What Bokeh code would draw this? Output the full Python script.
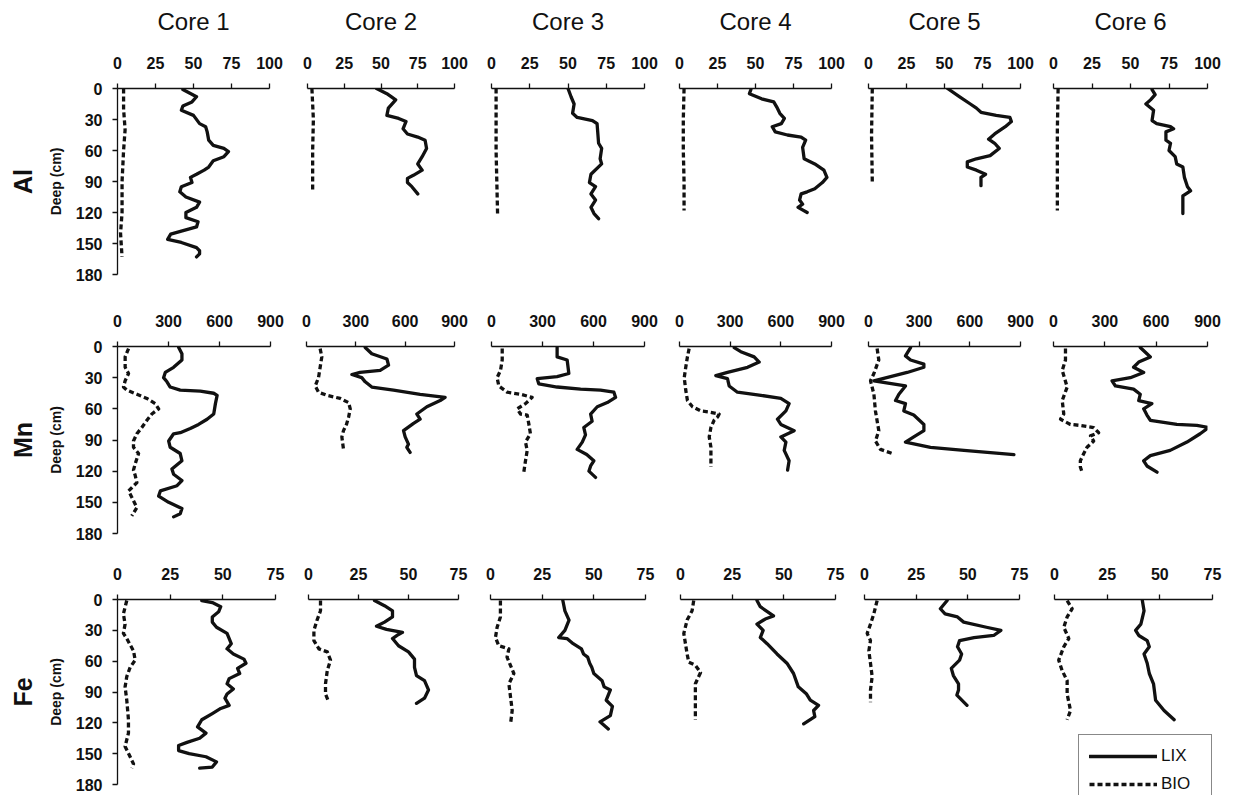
from bokeh.plotting import figure
from bokeh.layouts import row, column
from bokeh.models import Range1d, FixedTicker, Title, Legend, LegendItem
from bokeh.embed import file_html
from bokeh.resources import INLINE

FONT = "Liberation Sans"

# ---------------- data ----------------
CORES = ["Core 1", "Core 2", "Core 3", "Core 4", "Core 5", "Core 6"]
ELEMENTS = ["Al", "Mn", "Fe"]
X_MAX = {"Al": 100, "Mn": 900, "Fe": 75}
X_TICKS = {"Al": [0, 25, 50, 75, 100], "Mn": [0, 300, 600, 900], "Fe": [0, 25, 50, 75]}
DEPTH_TICKS = [0, 30, 60, 90, 120, 150, 180]
DEPTH_MAX = 180
Y_LABEL = "Deep (cm)"
SERIES = ["LIX", "BIO"]

# Al
al_c1_lix_depth = [1, 8, 13, 17, 21, 26, 34, 37, 42, 50, 55, 58, 61, 66, 70, 76, 79, 83, 86, 91, 95, 100, 105, 110, 115, 120, 125, 129, 134, 138, 141, 146, 149, 154, 157, 160, 163]
al_c1_lix = [43, 52, 49, 43, 42, 50, 54, 58, 59, 60, 63, 70, 73, 70, 63, 60, 57, 52, 48, 49, 42, 41, 45, 54, 52, 45, 45, 53, 52, 42, 35, 33, 42, 52, 54, 54, 52]
al_c1_bio_depth = [0, 20, 40, 60, 90, 120, 140, 163]
al_c1_bio = [4, 4, 5, 4, 3, 3, 2, 3]

al_c2_lix_depth = [0, 5, 11, 19, 26, 29, 32, 39, 44, 47, 50, 58, 66, 73, 79, 84, 87, 91, 95, 102]
al_c2_lix = [47, 54, 60, 55, 54, 62, 67, 65, 68, 75, 80, 81, 78, 75, 78, 72, 68, 68, 71, 75]
al_c2_bio_depth = [0, 30, 60, 100]
al_c2_bio = [3, 4, 3.5, 3.5]

al_c3_lix_depth = [0, 8, 15, 24, 28, 31, 34, 53, 58, 68, 73, 83, 91, 95, 102, 108, 115, 121, 126]
al_c3_lix = [50, 52, 54, 53, 56, 66, 69, 70, 72, 71, 72, 65, 64, 68, 65, 68, 65, 67, 70]
al_c3_bio_depth = [0, 60, 123]
al_c3_bio = [3, 3, 4]

al_c4_lix_depth = [1, 5, 10, 13, 18, 24, 29, 34, 37, 42, 45, 47, 50, 57, 68, 73, 79, 86, 91, 97, 100, 102, 108, 112, 115, 120]
al_c4_lix = [47, 46, 54, 62, 64, 66, 69, 67, 61, 63, 71, 80, 83, 81, 82, 89, 95, 97, 94, 89, 84, 80, 79, 81, 78, 84]
al_c4_bio_depth = [0, 30, 60, 90, 118]
al_c4_bio = [3, 2.5, 2.5, 3, 3]

al_c5_lix_depth = [0, 8, 15, 19, 23, 26, 28, 32, 37, 44, 49, 53, 58, 65, 68, 71, 76, 79, 83, 86, 94]
al_c5_lix = [52, 60, 67, 71, 74, 84, 93, 94, 90, 83, 79, 83, 86, 80, 71, 65, 65, 71, 77, 74, 74]
al_c5_bio_depth = [0, 45, 91]
al_c5_bio = [2.5, 2, 2.5]

al_c6_lix_depth = [1, 6, 11, 15, 21, 31, 34, 37, 39, 42, 50, 53, 60, 66, 73, 76, 86, 95, 99, 104, 121]
al_c6_lix = [64, 66, 63, 60, 65, 64, 67, 76, 78, 73, 73, 76, 75, 79, 80, 84, 85, 87, 89, 84, 84]
al_c6_bio_depth = [0, 40, 80, 118]
al_c6_bio = [3, 2.5, 2.5, 2.5]

# Mn
mn_c1_lix_depth = [1, 7, 13, 20, 25, 30, 34, 39, 42, 43, 45, 47, 55, 65, 70, 75, 79, 83, 84, 91, 97, 103, 110, 118, 123, 129, 134, 139, 144, 150, 156, 161, 164]
mn_c1_lix = [360, 379, 379, 330, 281, 271, 291, 310, 369, 487, 566, 586, 576, 566, 527, 477, 428, 369, 330, 301, 310, 369, 379, 320, 330, 379, 350, 252, 242, 301, 379, 369, 330]
mn_c1_bio_depth = [2, 10, 20, 26, 33, 39, 42, 46, 50, 55, 60, 65, 71, 78, 84, 91, 97, 103, 113, 119, 124, 131, 136, 139, 145, 155, 163]
mn_c1_bio = [65, 45, 45, 65, 45, 35, 55, 114, 173, 222, 242, 202, 173, 143, 114, 94, 94, 124, 104, 94, 104, 114, 84, 65, 84, 114, 84]

mn_c2_lix_depth = [1, 7, 12, 18, 23, 25, 27, 30, 34, 39, 42, 46, 49, 52, 58, 65, 70, 74, 81, 87, 94, 97, 102]
mn_c2_lix = [357, 397, 489, 499, 448, 326, 276, 336, 357, 397, 529, 691, 843, 813, 732, 671, 691, 651, 590, 600, 620, 610, 630]
mn_c2_bio_depth = [2, 10, 20, 30, 38, 44, 47, 50, 54, 60, 68, 75, 81, 87, 99]
mn_c2_bio = [83, 93, 83, 73, 53, 73, 124, 205, 256, 266, 256, 243, 225, 215, 225]

mn_c3_lix_depth = [1, 10, 13, 26, 29, 31, 36, 39, 41, 42, 44, 49, 54, 58, 65, 72, 78, 85, 92, 99, 104, 110, 115, 120, 126]
mn_c3_lix = [386, 386, 445, 455, 386, 269, 278, 386, 524, 641, 720, 730, 681, 622, 583, 592, 543, 553, 534, 504, 560, 602, 583, 573, 612]
mn_c3_bio_depth = [2, 13, 23, 30, 38, 44, 46, 49, 55, 60, 65, 66, 75, 84, 92, 100, 110, 121]
mn_c3_bio = [63, 63, 53, 33, 43, 92, 171, 239, 200, 151, 171, 210, 220, 229, 200, 210, 200, 190]

mn_c4_lix_depth = [1, 5, 10, 15, 20, 25, 28, 31, 38, 44, 47, 50, 55, 62, 70, 75, 81, 87, 92, 100, 110, 119]
mn_c4_lix = [324, 363, 442, 472, 403, 284, 215, 284, 294, 343, 482, 600, 649, 630, 580, 600, 679, 600, 630, 620, 649, 640]
mn_c4_bio_depth = [2, 10, 20, 30, 42, 52, 58, 62, 63, 65, 68, 71, 78, 87, 97, 116]
mn_c4_bio = [57, 47, 37, 28, 37, 47, 77, 126, 176, 235, 225, 205, 186, 176, 186, 186]

mn_c5_lix_depth = [1, 9, 13, 17, 20, 25, 33, 38, 46, 52, 55, 62, 66, 75, 81, 87, 92, 97, 100, 104]
mn_c5_lix = [249, 219, 249, 328, 328, 229, 32, 219, 180, 160, 219, 209, 268, 328, 328, 268, 219, 367, 565, 861]
mn_c5_bio_depth = [2, 13, 26, 33, 46, 62, 81, 91, 99, 103]
mn_c5_bio = [51, 61, 32, 12, 32, 41, 61, 41, 71, 140]

mn_c6_lix_depth = [1, 7, 10, 15, 20, 25, 30, 33, 38, 41, 46, 52, 55, 60, 66, 71, 75, 76, 78, 84, 92, 100, 105, 110, 115, 121]
mn_c6_lix = [507, 546, 566, 498, 468, 527, 449, 342, 362, 468, 507, 498, 575, 527, 546, 566, 721, 838, 906, 857, 780, 682, 566, 527, 546, 605]
mn_c6_bio_depth = [2, 13, 23, 39, 52, 65, 70, 75, 76, 78, 83, 86, 91, 97, 103, 110, 116, 121]
mn_c6_bio = [70, 70, 51, 80, 51, 60, 41, 99, 157, 235, 264, 216, 235, 196, 177, 157, 157, 167]

# Fe
fe_c1_lix_depth = [1, 3, 7, 12, 17, 22, 27, 33, 43, 48, 53, 58, 62, 67, 72, 77, 82, 87, 92, 96, 103, 106, 111, 117, 124, 130, 135, 139, 142, 147, 150, 153, 158, 163, 164]
fe_c1_lix = [40, 45, 49, 48, 45, 45, 47, 52, 54, 52, 55, 60, 61, 57, 58, 53, 52, 55, 52, 51, 53, 49, 45, 40, 38, 42, 39, 33, 29, 29, 34, 42, 47, 45, 39]
fe_c1_bio_depth = [1, 14, 24, 33, 38, 50, 59, 66, 75, 85, 98, 117, 130, 143, 153, 160, 164]
fe_c1_bio = [4.4, 2.8, 3.6, 2.8, 4.4, 7.6, 8.4, 6, 4.4, 3.6, 4.4, 5.2, 5.2, 3.6, 6, 7.6, 6.8]

fe_c2_lix_depth = [1, 6, 11, 17, 22, 26, 29, 32, 34, 38, 45, 51, 58, 66, 74, 79, 88, 96, 101]
fe_c2_lix = [33, 38, 42, 42, 38, 34, 39, 47, 45, 42, 45, 50, 53, 53, 54, 58, 60, 58, 54]
fe_c2_bio_depth = [1, 11, 20, 30, 40, 48, 51, 59, 69, 82, 92, 100]
fe_c2_bio = [6, 6, 4.3, 2.7, 2.7, 5.2, 9.4, 11, 9.4, 8.5, 8.5, 10.2]

fe_c3_lix_depth = [1, 11, 20, 30, 37, 38, 43, 48, 53, 56, 62, 66, 72, 79, 85, 88, 98, 104, 113, 119, 126]
fe_c3_lix = [35, 36, 38, 36, 33, 37, 40, 44, 45, 47, 48, 49, 50, 54, 55, 58, 56, 59, 58, 53, 57]
fe_c3_bio_depth = [1, 17, 27, 37, 45, 48, 56, 72, 82, 95, 108, 121]
fe_c3_bio = [4.8, 4.8, 3.2, 2.4, 4, 8.9, 8, 11.3, 8.9, 9.7, 10.5, 9.7]

fe_c4_lix_depth = [1, 7, 16, 19, 24, 30, 37, 43, 53, 62, 72, 85, 92, 98, 103, 108, 114, 121]
fe_c4_lix = [37, 38.6, 45, 41, 37, 40, 38.6, 41.9, 46.7, 51.5, 54.7, 57, 61, 62.8, 66.8, 64.4, 65, 59.6]
fe_c4_bio_depth = [1, 11, 20, 33, 43, 53, 61, 64, 71, 82, 95, 117]
fe_c4_bio = [6.4, 5.6, 3.2, 1.6, 2.4, 3.2, 4, 7.2, 9.7, 7.2, 7.2, 7.2]

fe_c5_lix_depth = [1, 9, 14, 17, 22, 27, 30, 35, 37, 40, 46, 53, 59, 67, 74, 82, 88, 93, 103]
fe_c5_lix = [40, 36.7, 39, 45, 48, 59, 66, 62.5, 53, 46, 45, 47, 46, 42, 43, 45.5, 45.5, 44.7, 49.6]
fe_c5_bio_depth = [1, 14, 24, 33, 40, 50, 62, 75, 88, 100]
fe_c5_bio = [6.1, 4.5, 2.9, 1.3, 2.9, 2.1, 2.9, 3.7, 2.9, 2.9]

fe_c6_lix_depth = [1, 11, 24, 30, 35, 40, 46, 53, 62, 72, 82, 98, 108, 117]
fe_c6_lix = [41.7, 42.5, 41, 38.5, 40, 44, 45, 42.5, 44, 45, 47, 48, 52, 56.8]
fe_c6_bio_depth = [1, 9, 17, 27, 38, 46, 59, 69, 79, 92, 108, 117]
fe_c6_bio = [6, 8.4, 6, 4.4, 6.8, 4.4, 2, 3.6, 6, 6, 7.6, 6]

DATA = {
    ("Al", 0): (al_c1_lix_depth, al_c1_lix, al_c1_bio_depth, al_c1_bio),
    ("Al", 1): (al_c2_lix_depth, al_c2_lix, al_c2_bio_depth, al_c2_bio),
    ("Al", 2): (al_c3_lix_depth, al_c3_lix, al_c3_bio_depth, al_c3_bio),
    ("Al", 3): (al_c4_lix_depth, al_c4_lix, al_c4_bio_depth, al_c4_bio),
    ("Al", 4): (al_c5_lix_depth, al_c5_lix, al_c5_bio_depth, al_c5_bio),
    ("Al", 5): (al_c6_lix_depth, al_c6_lix, al_c6_bio_depth, al_c6_bio),
    ("Mn", 0): (mn_c1_lix_depth, mn_c1_lix, mn_c1_bio_depth, mn_c1_bio),
    ("Mn", 1): (mn_c2_lix_depth, mn_c2_lix, mn_c2_bio_depth, mn_c2_bio),
    ("Mn", 2): (mn_c3_lix_depth, mn_c3_lix, mn_c3_bio_depth, mn_c3_bio),
    ("Mn", 3): (mn_c4_lix_depth, mn_c4_lix, mn_c4_bio_depth, mn_c4_bio),
    ("Mn", 4): (mn_c5_lix_depth, mn_c5_lix, mn_c5_bio_depth, mn_c5_bio),
    ("Mn", 5): (mn_c6_lix_depth, mn_c6_lix, mn_c6_bio_depth, mn_c6_bio),
    ("Fe", 0): (fe_c1_lix_depth, fe_c1_lix, fe_c1_bio_depth, fe_c1_bio),
    ("Fe", 1): (fe_c2_lix_depth, fe_c2_lix, fe_c2_bio_depth, fe_c2_bio),
    ("Fe", 2): (fe_c3_lix_depth, fe_c3_lix, fe_c3_bio_depth, fe_c3_bio),
    ("Fe", 3): (fe_c4_lix_depth, fe_c4_lix, fe_c4_bio_depth, fe_c4_bio),
    ("Fe", 4): (fe_c5_lix_depth, fe_c5_lix, fe_c5_bio_depth, fe_c5_bio),
    ("Fe", 5): (fe_c6_lix_depth, fe_c6_lix, fe_c6_bio_depth, fe_c6_bio),
}

# ---------------- layout geometry (pixels) ----------------
TOTAL_W = 1233
FRAME_L = {"Al": [117, 307, 491, 679, 868, 1053],
           "Mn": [117, 306, 491, 679, 868, 1053],
           "Fe": [117, 308, 490, 680, 864, 1054]}
FRAME_R = {"Al": [269, 454, 644, 831, 1020, 1207],
           "Mn": [270, 454, 644, 831, 1020, 1207],
           "Fe": [275, 458, 645, 835, 1019, 1212]}
# (top border, frame height, bottom border)
ROW_V = {"Al": (88, 186, 10), "Mn": (62, 187, 10), "Fe": (56, 185, 11)}

INK = "#111111"
LINE_W = 3.3


def make_panel(ri, ci):
    el = ELEMENTS[ri]
    L = FRAME_L[el]
    R = FRAME_R[el]
    starts = [0] + [round((R[i - 1] + L[i]) / 2) for i in range(1, 6)] + [TOTAL_W]
    bl = L[ci] - starts[ci]
    br = starts[ci + 1] - R[ci]
    bt, fh, bb = ROW_V[el]
    has_legend = (ri == 2 and ci == 5)
    y_end = DEPTH_MAX
    if has_legend:
        # extend this (axis-less) frame down to the canvas edge, same depth scale,
        # so that the legend below the profile is not clipped
        y_end = DEPTH_MAX * (fh + bb) / fh
        fh, bb = fh + bb, 0

    p = figure(frame_width=R[ci] - L[ci], frame_height=fh,
               x_range=Range1d(0, X_MAX[el]), y_range=Range1d(y_end, 0),
               x_axis_location="above",
               y_axis_location="left" if ci == 0 else None,
               min_border_left=bl, min_border_right=br,
               min_border_top=bt, min_border_bottom=bb,
               output_backend="svg", toolbar_location=None)
    p.outline_line_color = None
    p.grid.visible = False
    p.background_fill_color = "white"
    p.border_fill_color = "white"

    xa = p.xaxis[0]
    xa.ticker = FixedTicker(ticks=X_TICKS[el])
    xa.major_tick_out = 5
    xa.major_tick_in = 0
    xa.minor_tick_out = 0
    xa.minor_tick_in = 0
    xa.major_label_standoff = 15
    xa.major_label_text_font = FONT
    xa.major_label_text_font_size = "16px"
    xa.major_label_text_font_style = "bold"
    xa.major_label_text_color = INK
    xa.axis_line_color = INK
    xa.axis_line_width = 1.3
    xa.major_tick_line_color = INK
    xa.major_tick_line_width = 1.3
    if ri == 0:
        # column heading ("Core n") drawn as the top axis' label
        xa.axis_label = CORES[ci]
        xa.axis_label_text_font = FONT
        xa.axis_label_text_font_size = "24px"
        xa.axis_label_text_font_style = "normal"
        xa.axis_label_text_color = INK
        xa.axis_label_standoff = 19

    if ci == 0:
        ya = p.yaxis[0]
        ya.ticker = FixedTicker(ticks=DEPTH_TICKS)
        ya.major_tick_out = 5
        ya.major_tick_in = 0
        ya.minor_tick_out = 0
        ya.minor_tick_in = 0
        ya.major_label_standoff = 10
        ya.major_label_text_font = FONT
        ya.major_label_text_font_size = "16px"
        ya.major_label_text_font_style = "bold"
        ya.major_label_text_color = INK
        ya.axis_line_color = INK
        ya.axis_line_width = 1.3
        ya.major_tick_line_color = INK
        ya.major_tick_line_width = 1.3
        ya.axis_label = Y_LABEL
        ya.axis_label_text_font = FONT
        ya.axis_label_text_font_size = "14px"
        ya.axis_label_text_font_style = "bold"
        ya.axis_label_text_color = INK
        ya.axis_label_standoff = 9
        p.add_layout(Title(text=el, text_font=FONT, text_font_size="25px",
                           text_font_style="bold", text_color=INK,
                           align="center", vertical_align="top",
                           standoff=12), "left")

    ld, lv, bd, bv = DATA[(el, ci)]
    r_lix = p.line(lv, ld, line_color=INK, line_width=LINE_W, line_join="round", line_cap="round")
    r_bio = p.line(bv, bd, line_color=INK, line_width=LINE_W, line_dash="5 3", line_join="round")

    if has_legend:
        leg = Legend(items=[LegendItem(label=SERIES[0], renderers=[r_lix]),
                            LegendItem(label=SERIES[1], renderers=[r_bio])],
                     location=(24, -11), orientation="vertical")
        leg.label_text_font = FONT
        leg.label_text_font_size = "17px"
        leg.label_text_color = INK
        leg.glyph_width = 68
        leg.glyph_height = 22
        leg.label_height = 22
        leg.label_width = 40
        leg.label_standoff = 4
        leg.spacing = 6
        leg.padding = 10
        leg.margin = 0
        leg.border_line_color = INK
        leg.border_line_width = 1
        leg.background_fill_color = "white"
        leg.background_fill_alpha = 1
        p.add_layout(leg)
    return p


rows = []
for ri in range(3):
    rows.append(row(*[make_panel(ri, ci) for ci in range(6)], spacing=0))
layout = column(*rows, spacing=0)

open("out.html", "w").write(file_html(layout, INLINE))
